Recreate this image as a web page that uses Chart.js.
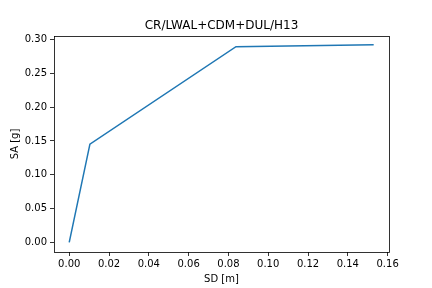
<!DOCTYPE html>
<html>
<head>
<meta charset="utf-8">
<script src="https://cdn.jsdelivr.net/npm/chart.js@4"></script>
<style>
  html, body { margin: 0; padding: 0; background: #fff; }
  #wrap { width: 432px; height: 288px; }
</style>
</head>
<body>
<div id="wrap"><canvas id="grafico" width="432" height="288"></canvas></div>
<script>
// curva de capacidade
const sdValues = [0.0, 0.0104, 0.0838, 0.153];
const saValues = [0.0, 0.1453, 0.2895, 0.2925];
const xTicks = [0.00, 0.02, 0.04, 0.06, 0.08, 0.10, 0.12, 0.14, 0.16];
const yTicks = [0.00, 0.05, 0.10, 0.15, 0.20, 0.25, 0.30];
const titulo = 'CR/LWAL+CDM+DUL/H13';

const fonte = 'DejaVu Sans';

// caixa completa + título no centro do eixo
const moldura = {
    id: 'moldura',
    afterDraw(chart) {
        const a = chart.chartArea;
        const c = chart.ctx;
        c.save();
        c.strokeStyle = '#000';
        c.lineWidth = 0.8;
        c.strokeRect(Math.round(a.left) + 0.5, Math.round(a.top) + 0.5,
            Math.round(a.right - a.left), Math.round(a.bottom - a.top));
        c.fillStyle = '#000';
        c.font = '12px "' + fonte + '"';
        c.textAlign = 'center';
        c.textBaseline = 'alphabetic';
        c.fillText(titulo, (a.left + a.right) / 2, a.top - 7);
        c.restore();
    }
};

const ctx = document.getElementById('grafico');

new Chart(ctx, {
    type: 'scatter',
    data: {
        datasets: [{
            data: sdValues.map((x, i) => ({ x: x, y: saValues[i] })),
            showLine: true,
            borderColor: '#1f77b4',
            borderWidth: 1.5,
            pointRadius: 0,
            fill: false
        }]
    },
    options: {
        responsive: false,
        animation: false,
        layout: { padding: { left: 0, right: 43, top: 36, bottom: 0 } },
        plugins: {
            legend: { display: false },
            tooltip: { enabled: false }
        },
        scales: {
            x: {
                type: 'linear',
                min: -0.00765,
                max: 0.1607,
                afterBuildTicks: (s) => { s.ticks = xTicks.map(v => ({ value: v })); },
                afterFit: (s) => { s.height = 36; },
                grid: { drawOnChartArea: false, tickLength: 4, color: '#000', tickWidth: 0.8 },
                border: { display: false },
                ticks: {
                    color: '#000',
                    padding: 2,
                    maxRotation: 0,
                    font: { family: fonte, size: 10 },
                    callback: (v) => v.toFixed(2)
                },
                title: {
                    display: true,
                    text: 'SD [m]',
                    color: '#000',
                    font: { family: fonte, size: 10 },
                    padding: { top: 1, bottom: 3 }
                }
            },
            y: {
                type: 'linear',
                min: -0.0143,
                max: 0.3053,
                afterBuildTicks: (s) => { s.ticks = yTicks.map(v => ({ value: v })); },
                afterFit: (s) => { s.width = 54; },
                grid: { drawOnChartArea: false, tickLength: 4, color: '#000', tickWidth: 0.8 },
                border: { display: false },
                ticks: {
                    color: '#000',
                    padding: 3,
                    font: { family: fonte, size: 10 },
                    callback: (v) => v.toFixed(2)
                },
                title: {
                    display: true,
                    text: 'SA [g]',
                    color: '#000',
                    font: { family: fonte, size: 10 },
                    padding: { top: 9, bottom: 0 }
                }
            }
        }
    },
    plugins: [moldura]
});
</script>
</body>
</html>
